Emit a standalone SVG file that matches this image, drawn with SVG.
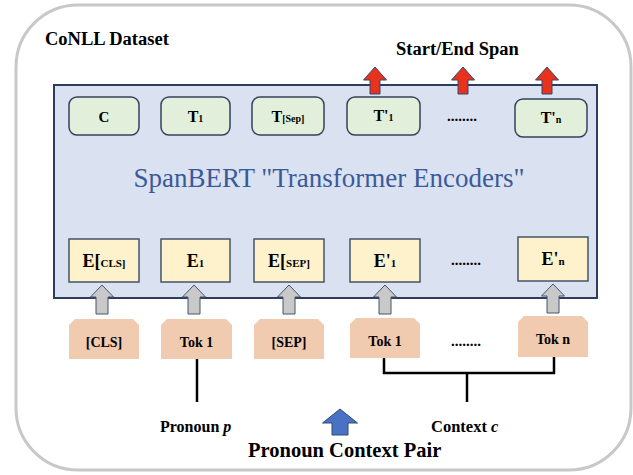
<svg xmlns="http://www.w3.org/2000/svg" width="633" height="475" viewBox="0 0 633 475">
<style>
.t{font-family:"Liberation Serif","Times New Roman",serif;font-weight:bold;fill:#000}
.sb{font-family:"Liberation Serif","Times New Roman",serif;font-size:27px;fill:#3b5a9a}
.g{fill:#e2efda;stroke:#33415c;stroke-width:1.5}
.y{fill:#fdf2cc;stroke:#44546a;stroke-width:1.5}
.p{fill:#f1cbb0}
.ra{fill:#e8321e;stroke:#2f4a6e;stroke-width:1}
.ga{fill:#c9c9c9;stroke:#44546a;stroke-width:1}
.ln{fill:none;stroke:#000;stroke-width:2.5}
</style>
<rect x="16" y="5" width="615" height="465" rx="62" fill="#fff" stroke="#c8c8c8" stroke-width="3"/>
<text class="t" x="45" y="45" font-size="18.5">CoNLL Dataset</text>
<text class="t" x="396" y="55" font-size="18.5">Start/End Span</text>
<g id="encoder">
<rect x="54" y="85" width="543" height="213" fill="#dae1f0" stroke="#2e3d5c" stroke-width="2"/>
<text class="sb" x="329" y="187" text-anchor="middle">SpanBERT "Transformer Encoders"</text>
</g>
<g id="outputs">
<path class="ra" d="M375,67 L386.5,80 L380,80 L380,94 L370,94 L370,80 L363.5,80 Z"/>
<path class="ra" d="M463,67 L474.5,80 L468,80 L468,94 L458,94 L458,80 L451.5,80 Z"/>
<path class="ra" d="M547,67 L558.5,80 L552,80 L552,94 L542,94 L542,80 L535.5,80 Z"/>
</g>
<g id="node-C"><rect class="g" x="69" y="97" width="70" height="38" rx="8"/><text class="t" x="104" y="122" font-size="15" text-anchor="middle">C</text></g>
<g id="node-T1"><rect class="g" x="161" y="97" width="69" height="38" rx="8"/><text class="t" x="195.5" y="122" font-size="16" text-anchor="middle">T<tspan font-size="10">1</tspan></text></g>
<g id="node-TSep"><rect class="g" x="252" y="97" width="72" height="38" rx="8"/><text class="t" x="288" y="122" font-size="16" text-anchor="middle">T<tspan font-size="10">[Sep]</tspan></text></g>
<g id="node-Tp1"><rect class="g" x="347" y="97" width="73" height="38" rx="8"/><text class="t" x="383.5" y="121" font-size="16" text-anchor="middle">T'<tspan font-size="10">1</tspan></text></g>
<text class="t" x="462" y="121" font-size="15" text-anchor="middle">........</text>
<g id="node-Tpn"><rect class="g" x="515" y="99" width="72" height="38" rx="8"/><text class="t" x="551" y="123" font-size="16" text-anchor="middle">T'<tspan font-size="10">n</tspan></text></g>
<g id="node-ECLS"><rect class="y" x="69" y="239" width="70" height="43"/><text class="t" x="104" y="267" font-size="18" text-anchor="middle">E[<tspan font-size="11">CLS]</tspan></text></g>
<g id="node-E1"><rect class="y" x="161" y="239" width="69" height="43"/><text class="t" x="195.5" y="267" font-size="18" text-anchor="middle">E<tspan font-size="11">1</tspan></text></g>
<g id="node-ESEP"><rect class="y" x="254" y="239" width="70" height="43"/><text class="t" x="289" y="267" font-size="18" text-anchor="middle">E[<tspan font-size="11">SEP]</tspan></text></g>
<g id="node-Ep1"><rect class="y" x="350" y="239" width="70" height="43"/><text class="t" x="385" y="267" font-size="18" text-anchor="middle">E'<tspan font-size="11">1</tspan></text></g>
<text class="t" x="466" y="265" font-size="15" text-anchor="middle">........</text>
<g id="node-Epn"><rect class="y" x="518" y="237" width="70" height="44"/><text class="t" x="553" y="265" font-size="18" text-anchor="middle">E'<tspan font-size="11">n</tspan></text></g>
<g id="node-CLS"><path class="p" d="M75,319 L133,319 L139,325 L139,359 L69,359 L69,325 Z"/><text class="t" x="104" y="347" font-size="14" text-anchor="middle">[CLS]</text></g>
<g id="node-Tok1"><path class="p" d="M167,319 L226,319 L232,325 L232,359 L161,359 L161,325 Z"/><text class="t" x="196.5" y="347" font-size="14" text-anchor="middle">Tok 1</text></g>
<g id="node-SEP"><path class="p" d="M260,319 L318,319 L324,325 L324,359 L254,359 L254,325 Z"/><text class="t" x="289" y="347" font-size="14" text-anchor="middle">[SEP]</text></g>
<g id="node-Tok1b"><path class="p" d="M356,318 L414,318 L420,324 L420,358 L350,358 L350,324 Z"/><text class="t" x="385" y="346" font-size="14" text-anchor="middle">Tok 1</text></g>
<text class="t" x="466" y="346" font-size="15" text-anchor="middle">........</text>
<g id="node-Tokn"><path class="p" d="M524,316 L582,316 L588,322 L588,357 L518,357 L518,322 Z"/><text class="t" x="553" y="344" font-size="14" text-anchor="middle">Tok n</text></g>
<g id="connectors">
<path class="ga" d="M102,285 L113.5,297 L108,297 L108,314 L96,314 L96,297 L90.5,297 Z"/>
<path class="ga" d="M194,285 L205.5,297 L200,297 L200,314 L188,314 L188,297 L182.5,297 Z"/>
<path class="ga" d="M289,285 L300.5,297 L295,297 L295,314 L283,314 L283,297 L277.5,297 Z"/>
<path class="ga" d="M385,285 L396.5,297 L391,297 L391,314 L379,314 L379,297 L373.5,297 Z"/>
<path class="ga" d="M553,284 L564.5,296 L559,296 L559,313 L547,313 L547,296 L541.5,296 Z"/>
<path class="ln" d="M197,359 L197,402"/>
<path class="ln" d="M384,358 L384,373 L554,373 L554,357"/>
<path class="ln" d="M467,373 L467,402"/>
<path d="M340,409 L357.5,423 L348,423 L348,435 L332,435 L332,423 L322.5,423 Z" fill="#4a72c4" stroke="#2f4a6e" stroke-width="1"/>
</g>
<text class="t" x="160" y="432" font-size="16">Pronoun <tspan font-style="italic">p</tspan></text>
<text class="t" x="431" y="432" font-size="16.5">Context <tspan font-style="italic">c</tspan></text>
<text class="t" x="248" y="457" font-size="20.5">Pronoun Context Pair</text>
</svg>
